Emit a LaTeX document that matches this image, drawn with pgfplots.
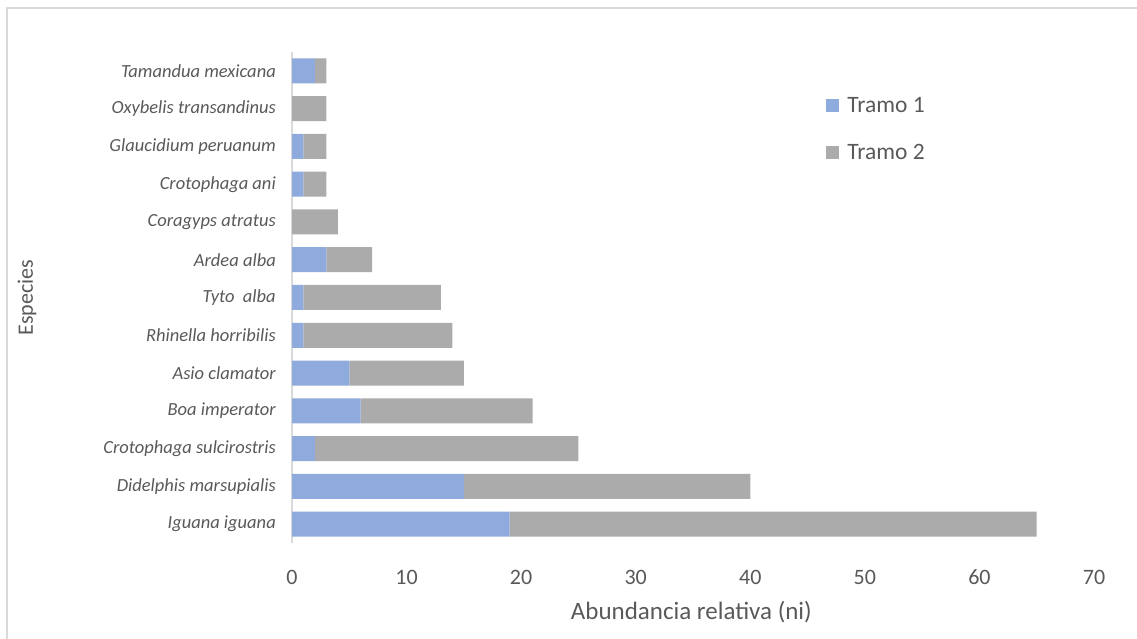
\documentclass[border=0pt]{standalone}
\usepackage{fontspec}
\setmainfont{Carlito}
\usepackage{pgfplots}
\pgfplotsset{compat=1.18}
\usepackage{pgfplotstable}

\definecolor{tramoA}{HTML}{8FAADC}
\definecolor{tramoB}{HTML}{ABABAB}
\definecolor{txt}{HTML}{595959}
\definecolor{frame}{HTML}{D9D9D9}

% Abundance per species (bottom to top): tramo 1 and tramo 2
\pgfplotstableread{
idx t1 t2
0  19 46
1  15 25
2  2  23
3  6  15
4  5  10
5  1  13
6  1  12
7  3  4
8  0  4
9  1  2
10 1  2
11 0  3
12 2  1
}\datos

\begin{document}
\begin{tikzpicture}[x=1pt,y=1pt]
\useasboundingbox (0,0) rectangle (1137,639);
\draw[frame, line width=2pt] (7,0) -- (7,631) -- (1137,631);
\begin{axis}[
  at={(292pt,96pt)}, anchor=south west,
  scale only axis, width=802pt, height=491pt,
  xbar stacked, bar width=25pt,
  xmin=0, xmax=70, xtick={0,10,...,70},
  ymin=-0.5, ymax=12.5, ytick={0,...,12},
  yticklabels={Iguana iguana, Didelphis marsupialis, Crotophaga sulcirostris,
    Boa imperator, Asio clamator, Rhinella horribilis, Tyto~ alba, Ardea alba,
    Coragyps atratus, Crotophaga ani, Glaucidium peruanum,
    Oxybelis transandinus, Tamandua mexicana},
  axis lines*=left, axis line style={-},
  x axis line style={draw=none},
  y axis line style={draw=frame, line width=2.5pt},
  major tick length=0pt,
  /pgf/number format/assume math mode=true,
  xticklabel style={font=\fontsize{22}{26}\selectfont, text=txt, anchor=center, yshift=-34pt},
  yticklabel style={font=\fontsize{18.5}{22}\selectfont\itshape, text=txt, anchor=east, inner sep=0pt, xshift=-16pt},
  xlabel={Abundancia relativa (ni)},
  ylabel={Especies},
  xlabel style={font=\fontsize{25}{30}\selectfont, text=txt, at={(axis description cs:0.498,0)}, anchor=center, yshift=-69pt},
  ylabel style={font=\fontsize{22}{26}\selectfont, text=txt, at={(axis description cs:0,0.5)}, anchor=center, yshift=265pt},
  legend cell align=left,
  legend image code/.code={\fill[#1] (0pt,-6.5pt) rectangle (13pt,6.5pt); \path (19pt,0pt);},
  legend style={at={(axis description cs:0.666,0.913)}, anchor=north west,
    draw=none, fill=none, font=\fontsize{23.5}{28}\selectfont, text=txt,
    row sep=27pt, inner sep=0pt, nodes={inner sep=2pt}},
]
\addplot[fill=tramoA, draw=none] table[x=t1, y=idx] {\datos};
\addplot[fill=tramoB, draw=none] table[x=t2, y=idx] {\datos};
\legend{Tramo 1, Tramo 2}
\end{axis}
\end{tikzpicture}
\end{document}
